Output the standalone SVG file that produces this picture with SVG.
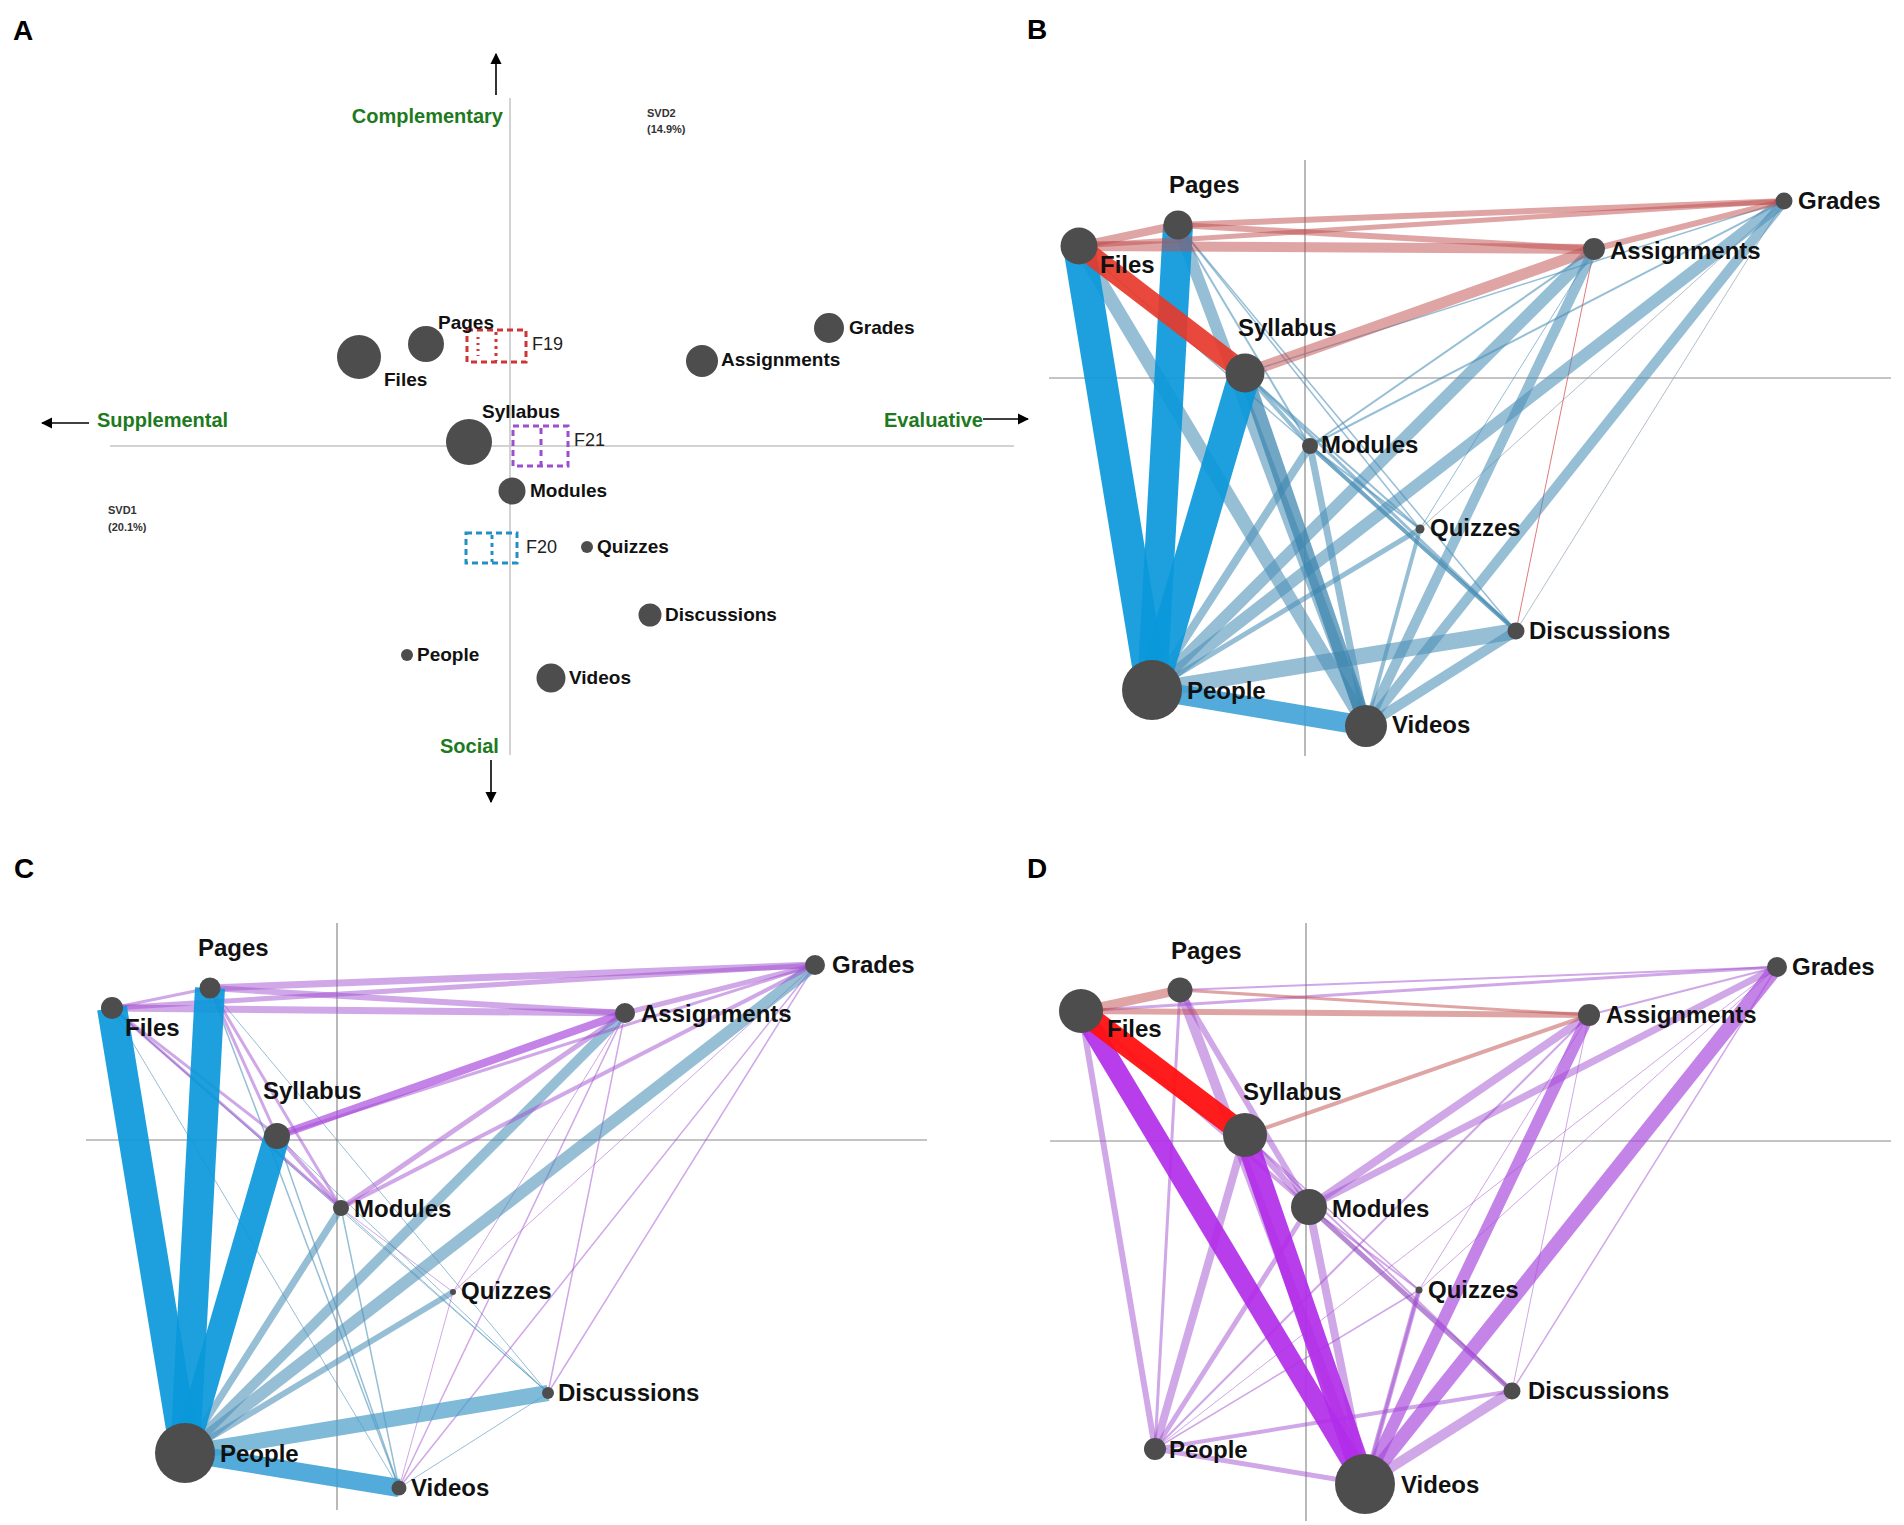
<svg xmlns="http://www.w3.org/2000/svg" width="1904" height="1525" viewBox="0 0 1904 1525">
<style>
.bg{fill:#ffffff}
.node{fill:#4d4d4d}
.lbl{font-family:"Liberation Sans",Arial,sans-serif;font-weight:bold;fill:#111}
.la{font-size:19px}
.lb{font-size:24px}
.plbl{font-family:"Liberation Sans",Arial,sans-serif;font-weight:bold;font-size:28px;fill:#000}
.green{font-family:"Liberation Sans",Arial,sans-serif;font-weight:bold;font-size:20px;fill:#1e7a1e}
.svd{font-family:"Liberation Sans",Arial,sans-serif;font-weight:bold;font-size:11px;fill:#333}
.fl{font-family:"Liberation Sans",Arial,sans-serif;font-size:18px;fill:#222}
.axA{stroke:#c4c4c4;stroke-width:1.5;fill:none}
.ax{stroke:#8a8a8a;stroke-width:1.2;fill:none}
.arr{stroke:#000;stroke-width:1.6;fill:none}
.box{fill:none;stroke-width:3;stroke-dasharray:6 4}
.sb{stroke:#4a8fb6;stroke-opacity:.58}
.sbd{stroke:#3a84ad;stroke-opacity:.72}
.sbl{stroke:#4d9fca;stroke-opacity:.72}
.bl{stroke:#3a9fd5;stroke-opacity:.88}
.bb{stroke:#0a98da;stroke-opacity:.92}
.gr{stroke:#7f95a8;stroke-opacity:.6}
.pk{stroke:#bf4c4c;stroke-opacity:.5}
.rd{stroke:#e63a2b;stroke-opacity:.92}
.rt{stroke:#d65a5a;stroke-opacity:.8}
.pu{stroke:#a24fd0;stroke-opacity:.5}
.pud{stroke:#8a3fb8;stroke-opacity:.62}
.pum{stroke:#a848dc;stroke-opacity:.68}
.pub{stroke:#b22de9;stroke-opacity:.92}
.rr{stroke:#ff1010;stroke-opacity:.95}
</style>
<defs>
<marker id="ah" viewBox="0 0 10 10" refX="9" refY="5" markerWidth="7" markerHeight="7" orient="auto-start-reverse">
<path d="M0,0 L10,5 L0,10 z" fill="#000"/>
</marker>
</defs>
<rect class="bg" x="0" y="0" width="1904" height="1525"/>

<!-- Panel labels -->
<text class="plbl" x="13" y="40">A</text>
<text class="plbl" x="1027" y="39">B</text>
<text class="plbl" x="14" y="878">C</text>
<text class="plbl" x="1027" y="878">D</text>

<!-- Panel A axes -->
<g id="axes-A">
<line class="axA" x1="510" y1="98" x2="510" y2="755"/>
<line class="axA" x1="110" y1="446" x2="1014" y2="446"/>
<line class="arr" x1="496" y1="95" x2="496" y2="54" marker-end="url(#ah)"/>
<line class="arr" x1="89" y1="423" x2="42" y2="423" marker-end="url(#ah)"/>
<line class="arr" x1="983" y1="419" x2="1028" y2="419" marker-end="url(#ah)"/>
<line class="arr" x1="491" y1="760" x2="491" y2="802" marker-end="url(#ah)"/>
<text class="green" x="503" y="123" text-anchor="end">Complementary</text>
<text class="green" x="97" y="427">Supplemental</text>
<text class="green" x="884" y="427">Evaluative</text>
<text class="green" x="440" y="753">Social</text>
<text class="svd" x="647" y="117">SVD2</text>
<text class="svd" x="647" y="133">(14.9%)</text>
<text class="svd" x="108" y="514">SVD1</text>
<text class="svd" x="108" y="531">(20.1%)</text>
</g>

<!-- Factor boxes -->
<g id="F19">
<rect class="box" x="467" y="330" width="59" height="32" stroke="#d03434"/>
<line x1="478" y1="337" x2="478" y2="356" stroke="#d03434" stroke-width="3" stroke-dasharray="2 4"/>
<line x1="496" y1="332" x2="496" y2="361" stroke="#d03434" stroke-width="3" stroke-dasharray="3 4"/>
<text class="fl" x="532" y="350">F19</text>
</g>
<g id="F21">
<rect class="box" x="513" y="426" width="55" height="40" stroke="#9d4ecb"/>
<line x1="541" y1="428" x2="541" y2="465" stroke="#9d4ecb" stroke-width="3" stroke-dasharray="6 5"/>
<text class="fl" x="574" y="446">F21</text>
</g>
<g id="F20">
<rect class="box" x="466" y="533" width="51" height="30" stroke="#2290c6"/>
<line x1="492" y1="535" x2="492" y2="562" stroke="#2290c6" stroke-width="3" stroke-dasharray="4 4"/>
<text class="fl" x="526" y="553">F20</text>
</g>

<!-- Axes B, C, D -->
<g id="axes-BCD">
<line class="ax" x1="1305" y1="160" x2="1305" y2="756"/>
<line class="ax" x1="1049" y1="378" x2="1891" y2="378"/>
<line class="ax" x1="337" y1="923" x2="337" y2="1510"/>
<line class="ax" x1="86" y1="1140" x2="927" y2="1140"/>
<line class="ax" x1="1306" y1="923" x2="1306" y2="1521"/>
<line class="ax" x1="1050" y1="1141" x2="1891" y2="1141"/>
</g>

<g id="connectors" fill="none" stroke-linecap="butt">
<!-- Panel B -->
<g id="edges-B">
<line class="sb" x1="1310" y1="446" x2="1594" y2="249" stroke-width="2"/>
<line class="sb" x1="1310" y1="446" x2="1784" y2="201" stroke-width="2"/>
<line class="sb" x1="1245" y1="373" x2="1784" y2="201" stroke-width="1.5"/>
<line class="sb" x1="1178" y1="225" x2="1310" y2="446" stroke-width="2"/>
<line class="sb" x1="1079" y1="246" x2="1310" y2="446" stroke-width="1.5"/>
<line class="sb" x1="1178" y1="225" x2="1420" y2="529" stroke-width="1.5"/>
<line class="sb" x1="1178" y1="225" x2="1516" y2="631" stroke-width="1.5"/>
<line class="sb" x1="1245" y1="373" x2="1310" y2="446" stroke-width="4"/>
<line class="sb" x1="1245" y1="373" x2="1420" y2="529" stroke-width="2"/>
<line class="sb" x1="1245" y1="373" x2="1516" y2="631" stroke-width="3"/>
<line class="sb" x1="1310" y1="446" x2="1420" y2="529" stroke-width="2"/>
<line class="sbd" x1="1310" y1="446" x2="1516" y2="631" stroke-width="4"/>
<line class="sb" x1="1594" y1="249" x2="1420" y2="529" stroke-width="1"/>
<line class="gr" x1="1784" y1="201" x2="1420" y2="529" stroke-width="1"/>
<line class="gr" x1="1784" y1="201" x2="1516" y2="631" stroke-width="1"/>
<line class="rt" x1="1594" y1="249" x2="1516" y2="631" stroke-width="1"/>
<line class="sb" x1="1152" y1="690" x2="1420" y2="529" stroke-width="5"/>
<line class="sb" x1="1152" y1="690" x2="1310" y2="446" stroke-width="8"/>
<line class="sb" x1="1366" y1="726" x2="1420" y2="529" stroke-width="4"/>
<line class="sb" x1="1366" y1="726" x2="1310" y2="446" stroke-width="7"/>
<line class="sb" x1="1366" y1="726" x2="1516" y2="631" stroke-width="10"/>
<line class="sb" x1="1366" y1="726" x2="1594" y2="249" stroke-width="10"/>
<line class="sb" x1="1366" y1="726" x2="1784" y2="201" stroke-width="10"/>
<line class="sb" x1="1152" y1="690" x2="1594" y2="249" stroke-width="12"/>
<line class="sb" x1="1152" y1="690" x2="1784" y2="201" stroke-width="12"/>
<line class="sb" x1="1152" y1="690" x2="1516" y2="631" stroke-width="16"/>
<line class="sb" x1="1079" y1="246" x2="1366" y2="726" stroke-width="14"/>
<line class="sb" x1="1178" y1="225" x2="1366" y2="726" stroke-width="12"/>
<line class="sbd" x1="1245" y1="373" x2="1366" y2="726" stroke-width="14"/>
<line class="bl" x1="1152" y1="690" x2="1366" y2="726" stroke-width="20"/>
<line class="bb" x1="1079" y1="246" x2="1152" y2="690" stroke-width="32"/>
<line class="bb" x1="1178" y1="225" x2="1152" y2="690" stroke-width="30" stroke="#22a0dc"/>
<line class="bb" x1="1245" y1="373" x2="1152" y2="690" stroke-width="32" stroke="#009fe3"/>
<line class="pk" x1="1079" y1="246" x2="1178" y2="225" stroke-width="8"/>
<line class="pk" x1="1079" y1="246" x2="1784" y2="201" stroke-width="5"/>
<line class="pk" x1="1178" y1="225" x2="1784" y2="201" stroke-width="6"/>
<line class="pk" x1="1178" y1="225" x2="1594" y2="249" stroke-width="6"/>
<line class="pk" x1="1079" y1="246" x2="1594" y2="249" stroke-width="10"/>
<line class="pk" x1="1245" y1="373" x2="1594" y2="249" stroke-width="11"/>
<line class="pk" x1="1594" y1="249" x2="1784" y2="201" stroke-width="6"/>
<line class="rd" x1="1079" y1="246" x2="1245" y2="373" stroke-width="20"/>
</g>
<!-- Panel C -->
<g id="edges-C">
<line class="sb" x1="112" y1="1008" x2="341" y2="1208" stroke-width="1"/>
<line class="sb" x1="210" y1="988" x2="399" y2="1488" stroke-width="1.5"/>
<line class="sb" x1="277" y1="1136" x2="399" y2="1488" stroke-width="1.5"/>
<line class="sb" x1="341" y1="1208" x2="399" y2="1488" stroke-width="1.5"/>
<line class="sb" x1="399" y1="1488" x2="548" y2="1393" stroke-width="1"/>
<line class="sb" x1="112" y1="1008" x2="548" y2="1393" stroke-width="1"/>
<line class="sb" x1="210" y1="988" x2="548" y2="1393" stroke-width="1"/>
<line class="sb" x1="277" y1="1136" x2="548" y2="1393" stroke-width="1"/>
<line class="sb" x1="112" y1="1008" x2="399" y2="1488" stroke-width="1"/>
<line class="sb" x1="341" y1="1208" x2="548" y2="1393" stroke-width="1"/>
<line class="pu" x1="625" y1="1013" x2="399" y2="1488" stroke-width="1.5"/>
<line class="pu" x1="625" y1="1013" x2="548" y2="1393" stroke-width="1.5"/>
<line class="pu" x1="815" y1="965" x2="399" y2="1488" stroke-width="1.5"/>
<line class="pu" x1="815" y1="965" x2="548" y2="1393" stroke-width="1.5"/>
<line class="pu" x1="625" y1="1013" x2="453" y2="1292" stroke-width="1"/>
<line class="pu" x1="815" y1="965" x2="453" y2="1292" stroke-width="1"/>
<line class="pu" x1="453" y1="1292" x2="399" y2="1488" stroke-width="1"/>
<line class="pu" x1="341" y1="1208" x2="453" y2="1292" stroke-width="1"/>
<line class="sb" x1="185" y1="1453" x2="453" y2="1292" stroke-width="6"/>
<line class="sb" x1="185" y1="1453" x2="341" y2="1208" stroke-width="7"/>
<line class="sb" x1="185" y1="1453" x2="625" y2="1013" stroke-width="10"/>
<line class="sb" x1="185" y1="1453" x2="815" y2="965" stroke-width="12"/>
<line class="sbl" x1="185" y1="1453" x2="548" y2="1393" stroke-width="16"/>
<line class="bl" x1="185" y1="1453" x2="399" y2="1488" stroke-width="18"/>
<line class="pu" x1="112" y1="1008" x2="210" y2="988" stroke-width="3"/>
<line class="pu" x1="112" y1="1008" x2="277" y2="1136" stroke-width="3"/>
<line class="pu" x1="112" y1="1008" x2="341" y2="1208" stroke-width="3"/>
<line class="pu" x1="210" y1="988" x2="277" y2="1136" stroke-width="3"/>
<line class="pu" x1="210" y1="988" x2="341" y2="1208" stroke-width="3"/>
<line class="pu" x1="277" y1="1136" x2="341" y2="1208" stroke-width="4"/>
<line class="pu" x1="112" y1="1008" x2="815" y2="965" stroke-width="5"/>
<line class="pu" x1="210" y1="988" x2="815" y2="965" stroke-width="7"/>
<line class="pu" x1="112" y1="1008" x2="625" y2="1013" stroke-width="7"/>
<line class="pu" x1="210" y1="988" x2="625" y2="1013" stroke-width="6"/>
<line class="pu" x1="277" y1="1136" x2="815" y2="965" stroke-width="3"/>
<line class="pum" x1="277" y1="1136" x2="625" y2="1013" stroke-width="8"/>
<line class="pu" x1="341" y1="1208" x2="625" y2="1013" stroke-width="5"/>
<line class="pu" x1="341" y1="1208" x2="815" y2="965" stroke-width="4"/>
<line class="pu" x1="625" y1="1013" x2="815" y2="965" stroke-width="5"/>
<line class="bb" x1="112" y1="1008" x2="185" y2="1453" stroke-width="30"/>
<line class="bb" x1="210" y1="988" x2="185" y2="1453" stroke-width="30"/>
<line class="bb" x1="277" y1="1136" x2="185" y2="1453" stroke-width="26" stroke="#009fe3"/>
</g>
<!-- Panel D -->
<g id="edges-D">
<line class="pu" x1="1589" y1="1015" x2="1419" y2="1290" stroke-width="1"/>
<line class="pu" x1="1777" y1="967" x2="1419" y2="1290" stroke-width="1"/>
<line class="pu" x1="1777" y1="967" x2="1512" y2="1391" stroke-width="1.5"/>
<line class="pu" x1="1589" y1="1015" x2="1512" y2="1391" stroke-width="1"/>
<line class="pu" x1="1245" y1="1135" x2="1419" y2="1290" stroke-width="1.5"/>
<line class="pu" x1="1245" y1="1135" x2="1512" y2="1391" stroke-width="2"/>
<line class="pu" x1="1309" y1="1207" x2="1419" y2="1290" stroke-width="2"/>
<line class="pu" x1="1155" y1="1449" x2="1777" y2="967" stroke-width="1"/>
<line class="pu" x1="1155" y1="1449" x2="1589" y2="1015" stroke-width="2"/>
<line class="pu" x1="1155" y1="1449" x2="1419" y2="1290" stroke-width="1.5"/>
<line class="pu" x1="1419" y1="1290" x2="1365" y2="1484" stroke-width="3"/>
<line class="pu" x1="1081" y1="1011" x2="1155" y2="1449" stroke-width="6"/>
<line class="pu" x1="1180" y1="990" x2="1155" y2="1449" stroke-width="3"/>
<line class="pu" x1="1245" y1="1135" x2="1155" y2="1449" stroke-width="8"/>
<line class="pu" x1="1309" y1="1207" x2="1155" y2="1449" stroke-width="5"/>
<line class="pu" x1="1155" y1="1449" x2="1365" y2="1484" stroke-width="5"/>
<line class="pu" x1="1155" y1="1449" x2="1512" y2="1391" stroke-width="4"/>
<line class="pu" x1="1081" y1="1011" x2="1309" y2="1207" stroke-width="4"/>
<line class="pu" x1="1245" y1="1135" x2="1309" y2="1207" stroke-width="6"/>
<line class="pu" x1="1180" y1="990" x2="1309" y2="1207" stroke-width="6"/>
<line class="pud" x1="1309" y1="1207" x2="1512" y2="1391" stroke-width="5"/>
<line class="pu" x1="1309" y1="1207" x2="1589" y2="1015" stroke-width="8"/>
<line class="pu" x1="1309" y1="1207" x2="1777" y2="967" stroke-width="7"/>
<line class="pu" x1="1365" y1="1484" x2="1419" y2="1290" stroke-width="5"/>
<line class="pu" x1="1365" y1="1484" x2="1309" y2="1207" stroke-width="8"/>
<line class="pu" x1="1365" y1="1484" x2="1512" y2="1391" stroke-width="10"/>
<line class="pum" x1="1365" y1="1484" x2="1589" y2="1015" stroke-width="12"/>
<line class="pum" x1="1365" y1="1484" x2="1777" y2="967" stroke-width="14"/>
<line class="pu" x1="1180" y1="990" x2="1365" y2="1484" stroke-width="10"/>
<line class="pub" x1="1081" y1="1011" x2="1365" y2="1484" stroke-width="20"/>
<line class="pub" x1="1245" y1="1135" x2="1365" y2="1484" stroke-width="22"/>
<line class="pu" x1="1081" y1="1011" x2="1777" y2="967" stroke-width="3"/>
<line class="pu" x1="1180" y1="990" x2="1777" y2="967" stroke-width="2"/>
<line class="pu" x1="1589" y1="1015" x2="1777" y2="967" stroke-width="2"/>
<line class="pk" x1="1180" y1="990" x2="1589" y2="1015" stroke-width="3"/>
<line class="pk" x1="1245" y1="1135" x2="1589" y2="1015" stroke-width="4"/>
<line class="pk" x1="1081" y1="1011" x2="1589" y2="1015" stroke-width="6"/>
<line class="pk" x1="1081" y1="1011" x2="1180" y2="990" stroke-width="9" stroke-opacity=".65"/>
<line class="rr" x1="1081" y1="1011" x2="1245" y2="1135" stroke-width="22"/>
</g>
</g>

<!-- Panel A nodes -->
<g id="A-Pages"><circle class="node" cx="426" cy="344" r="18"/><text class="lbl la" x="438" y="329">Pages</text></g>
<g id="A-Files"><circle class="node" cx="359" cy="357" r="22"/><text class="lbl la" x="384" y="386">Files</text></g>
<g id="A-Grades"><circle class="node" cx="829" cy="328" r="15"/><text class="lbl la" x="849" y="334">Grades</text></g>
<g id="A-Assignments"><circle class="node" cx="702" cy="361" r="16"/><text class="lbl la" x="721" y="366">Assignments</text></g>
<g id="A-Syllabus"><circle class="node" cx="469" cy="442" r="23"/><text class="lbl la" x="482" y="418">Syllabus</text></g>
<g id="A-Modules"><circle class="node" cx="512" cy="491" r="13.5"/><text class="lbl la" x="530" y="497">Modules</text></g>
<g id="A-Quizzes"><circle class="node" cx="587" cy="547" r="6"/><text class="lbl la" x="597" y="553">Quizzes</text></g>
<g id="A-Discussions"><circle class="node" cx="650" cy="615" r="11.5"/><text class="lbl la" x="665" y="621">Discussions</text></g>
<g id="A-People"><circle class="node" cx="407" cy="655" r="6"/><text class="lbl la" x="417" y="661">People</text></g>
<g id="A-Videos"><circle class="node" cx="551" cy="678" r="14.5"/><text class="lbl la" x="569" y="684">Videos</text></g>

<!-- Panel B nodes -->
<g id="B-Files"><circle class="node" cx="1079" cy="246" r="18.5"/><text class="lbl lb" x="1100" y="273">Files</text></g>
<g id="B-Pages"><circle class="node" cx="1178" cy="225" r="14.5"/><text class="lbl lb" x="1169" y="193">Pages</text></g>
<g id="B-Syllabus"><circle class="node" cx="1245" cy="373" r="19.5"/><text class="lbl lb" x="1238" y="336">Syllabus</text></g>
<g id="B-Modules"><circle class="node" cx="1310" cy="446" r="8"/><text class="lbl lb" x="1321" y="453">Modules</text></g>
<g id="B-Assignments"><circle class="node" cx="1594" cy="249" r="11"/><text class="lbl lb" x="1610" y="259">Assignments</text></g>
<g id="B-Grades"><circle class="node" cx="1784" cy="201" r="8.5"/><text class="lbl lb" x="1798" y="209">Grades</text></g>
<g id="B-Quizzes"><circle class="node" cx="1420" cy="529" r="4.5"/><text class="lbl lb" x="1430" y="536">Quizzes</text></g>
<g id="B-Discussions"><circle class="node" cx="1516" cy="631" r="8.5"/><text class="lbl lb" x="1529" y="639">Discussions</text></g>
<g id="B-People"><circle class="node" cx="1152" cy="690" r="30"/><text class="lbl lb" x="1187" y="699">People</text></g>
<g id="B-Videos"><circle class="node" cx="1366" cy="726" r="21"/><text class="lbl lb" x="1392" y="733">Videos</text></g>

<!-- Panel C nodes -->
<g id="C-Files"><circle class="node" cx="112" cy="1008" r="11"/><text class="lbl lb" x="125" y="1036">Files</text></g>
<g id="C-Pages"><circle class="node" cx="210" cy="988" r="10.5"/><text class="lbl lb" x="198" y="956">Pages</text></g>
<g id="C-Syllabus"><circle class="node" cx="277" cy="1136" r="13"/><text class="lbl lb" x="263" y="1099">Syllabus</text></g>
<g id="C-Modules"><circle class="node" cx="341" cy="1208" r="8"/><text class="lbl lb" x="354" y="1217">Modules</text></g>
<g id="C-Assignments"><circle class="node" cx="625" cy="1013" r="10"/><text class="lbl lb" x="641" y="1022">Assignments</text></g>
<g id="C-Grades"><circle class="node" cx="815" cy="965" r="10"/><text class="lbl lb" x="832" y="973">Grades</text></g>
<g id="C-Quizzes"><circle class="node" cx="453" cy="1292" r="3"/><text class="lbl lb" x="461" y="1299">Quizzes</text></g>
<g id="C-Discussions"><circle class="node" cx="548" cy="1393" r="6"/><text class="lbl lb" x="558" y="1401">Discussions</text></g>
<g id="C-People"><circle class="node" cx="185" cy="1453" r="30"/><text class="lbl lb" x="220" y="1462">People</text></g>
<g id="C-Videos"><circle class="node" cx="399" cy="1488" r="7.5"/><text class="lbl lb" x="411" y="1496">Videos</text></g>

<!-- Panel D nodes -->
<g id="D-Files"><circle class="node" cx="1081" cy="1011" r="22"/><text class="lbl lb" x="1107" y="1037">Files</text></g>
<g id="D-Pages"><circle class="node" cx="1180" cy="990" r="12.5"/><text class="lbl lb" x="1171" y="959">Pages</text></g>
<g id="D-Syllabus"><circle class="node" cx="1245" cy="1135" r="22"/><text class="lbl lb" x="1243" y="1100">Syllabus</text></g>
<g id="D-Modules"><circle class="node" cx="1309" cy="1207" r="18"/><text class="lbl lb" x="1332" y="1217">Modules</text></g>
<g id="D-Assignments"><circle class="node" cx="1589" cy="1015" r="11"/><text class="lbl lb" x="1606" y="1023">Assignments</text></g>
<g id="D-Grades"><circle class="node" cx="1777" cy="967" r="10"/><text class="lbl lb" x="1792" y="975">Grades</text></g>
<g id="D-Quizzes"><circle class="node" cx="1419" cy="1290" r="3.5"/><text class="lbl lb" x="1428" y="1298">Quizzes</text></g>
<g id="D-Discussions"><circle class="node" cx="1512" cy="1391" r="8.5"/><text class="lbl lb" x="1528" y="1399">Discussions</text></g>
<g id="D-People"><circle class="node" cx="1155" cy="1449" r="11"/><text class="lbl lb" x="1169" y="1458">People</text></g>
<g id="D-Videos"><circle class="node" cx="1365" cy="1484" r="30"/><text class="lbl lb" x="1401" y="1493">Videos</text></g>
</svg>
